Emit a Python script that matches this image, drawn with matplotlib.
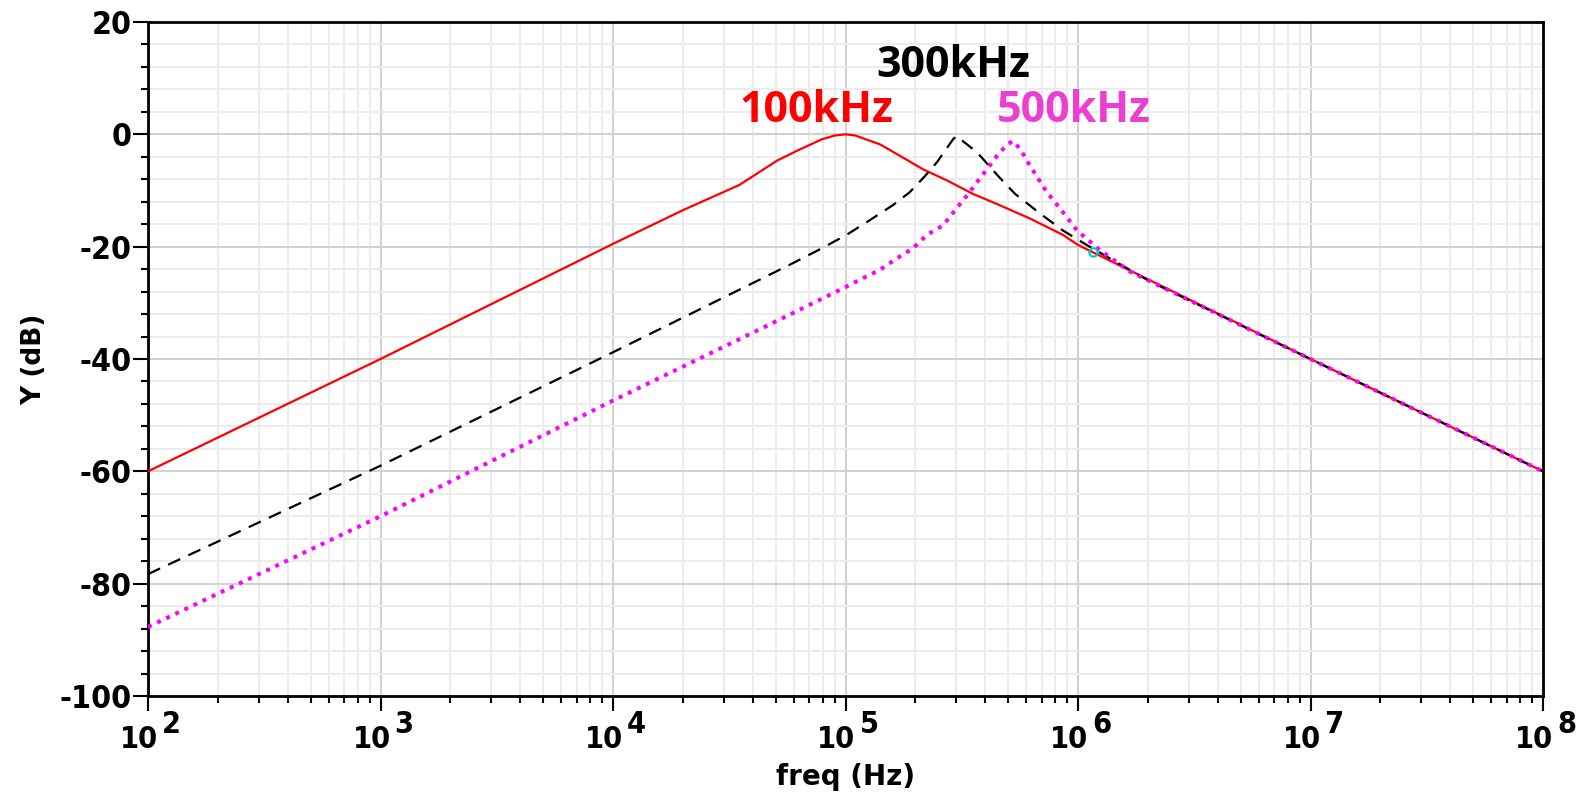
import numpy as np
import matplotlib.pyplot as plt
from matplotlib.ticker import FixedLocator, LogLocator, MultipleLocator, NullFormatter

# Curves (frequency in Hz, magnitude in dB)
red_freq = [1e2, 1e3, 1e4, 2e4, 3.5e4, 5.07e4, 6.2e4, 7.9e4, 9e4, 1e5, 1.1e5, 1.41e5,
            1.71e5, 2.15e5, 2.73e5, 3.53e5, 4.48e5, 6.22e5, 8.61e5, 1e6, 1e7, 1e8]
red_db = [-60, -40, -19.5, -13.5, -9.0, -4.7, -2.9, -0.9, -0.2, 0, -0.2, -1.8,
          -3.8, -6.2, -8.2, -10.6, -12.4, -15.0, -17.9, -19.7, -40, -60]

black_freq = [1e2, 1e3, 1e4, 5.9e4, 7.9e4, 1.01e5, 1.27e5, 1.6e5, 1.89e5, 2.2e5, 2.47e5,
              2.9e5, 3.0e5, 3.68e5, 4.53e5, 5.36e5, 6.87e5, 8.6e5, 1.1e6, 2e6, 1e7, 1e8]
black_db = [-78.3, -59, -38.8, -23.0, -20.3, -17.9, -15.3, -12.6, -10.3, -7.4, -5.0,
            -0.9, -0.3, -3.2, -7.4, -10.6, -14.1, -17.1, -19.8, -26, -40, -60]

mag_freq = [1e2, 1e3, 1e4, 5.2e4, 1e5, 1.19e5, 1.41e5, 1.66e5, 1.95e5, 2.24e5, 2.63e5,
            3.0e5, 3.33e5, 3.68e5, 4.06e5, 4.49e5, 4.96e5, 5.25e5, 5.64e5, 6.22e5,
            7.35e5, 8.37e5, 9.9e5, 1.24e6, 1.67e6, 1e7, 1e8]
mag_db = [-87.7, -68, -47.4, -33.0, -27.2, -25.6, -24.1, -22.1, -20.3, -17.9, -16.2,
          -13.2, -10.9, -8.5, -6.2, -3.8, -1.8, -1.2, -2.6, -5.6,
          -10.3, -13.2, -17.1, -20.6, -24.4, -40, -60]

cursor_freq = [1.16e6]
cursor_db = [-20.9]

peak_labels = ["100kHz", "300kHz", "500kHz"]
x_exponents = [2, 3, 4, 5, 6, 7, 8]

plt.rcParams['axes.unicode_minus'] = False

fig = plt.figure(figsize=(15.85, 7.95), dpi=100)
ax = fig.add_axes([148 / 1585, 99 / 795, 1395 / 1585, 674 / 795])

ax.plot(red_freq, red_db, color='#ff0000', lw=1.6, zorder=3)
ax.plot(black_freq, black_db, color='black', lw=1.6, dashes=(6, 4), zorder=4)
ax.plot(mag_freq, mag_db, color='#ff00ff', lw=2.9, dashes=(1, 1.5), zorder=5)
ax.plot(cursor_freq, cursor_db, 'o', ms=6, mfc='none', mec='#00c8c8', mew=1.5, zorder=6)

ax.set_xscale('log')
ax.set_xlim(1e2, 1e8)
ax.set_ylim(-100, 20)

# ticks and grid
ax.xaxis.set_major_locator(FixedLocator([10.0 ** e for e in x_exponents]))
ax.xaxis.set_minor_locator(LogLocator(base=10, subs=np.arange(2, 10), numticks=20))
ax.xaxis.set_major_formatter(NullFormatter())
ax.xaxis.set_minor_formatter(NullFormatter())
ax.yaxis.set_major_locator(MultipleLocator(20))
ax.yaxis.set_minor_locator(MultipleLocator(4))

ax.grid(which='major', color='#d2d2d2', lw=1.5, zorder=0)
ax.grid(which='minor', color='#ececec', lw=1.5, zorder=0)
ax.set_axisbelow(True)

ax.tick_params(which='major', length=11, width=1.5, color='black')
ax.tick_params(which='minor', length=5, width=1.5, color='black')
ax.tick_params(axis='y', which='major', pad=1)
for sp in ax.spines.values():
    sp.set_linewidth(2)

tick_font = dict(family='DejaVu Sans', fontweight='bold', fontstretch='condensed')
for lbl in ax.get_yticklabels():
    lbl.set_fontsize(23)
    lbl.set_fontweight('bold')
    lbl.set_fontstretch('condensed')

# x tick labels "10" with a full size exponent
for e in x_exponents:
    ax.annotate("10", xy=(10.0 ** e, 0), xycoords=('data', 'axes fraction'),
                xytext=(10, -52), textcoords='offset pixels', ha='right', va='baseline',
                fontsize=22, **tick_font)
    ax.annotate(str(e), xy=(10.0 ** e, 0), xycoords=('data', 'axes fraction'),
                xytext=(14, -37), textcoords='offset pixels', ha='left', va='baseline',
                fontsize=22, **tick_font)

ax.set_xlabel("freq (Hz)", fontsize=20, fontweight='bold', labelpad=34)
ax.set_ylabel("Y (dB)", fontsize=19, fontweight='bold', labelpad=9)

# peak annotations
ann_font = ['Open Sans', 'DejaVu Sans']
ax.text(0.479, 0.852, peak_labels[0], transform=ax.transAxes, color='#ff0000',
        fontsize=31, fontweight='bold', family=ann_font, ha='center', va='baseline')
ax.text(0.577, 0.918, peak_labels[1], transform=ax.transAxes, color='black',
        fontsize=31, fontweight='bold', family=ann_font, ha='center', va='baseline')
ax.text(0.664, 0.852, peak_labels[2], transform=ax.transAxes, color='#ea3fd0',
        fontsize=31, fontweight='bold', family=ann_font, ha='center', va='baseline')

fig.savefig('out.png', dpi=100)
